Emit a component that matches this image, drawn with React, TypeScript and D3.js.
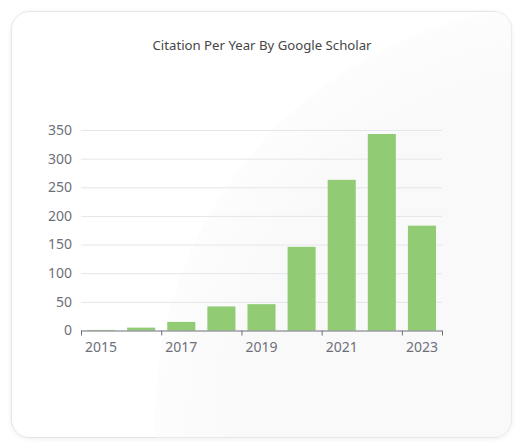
import { useMemo } from 'react';
import * as d3 from 'd3';

const years = ['2015', '2016', '2017', '2018', '2019', '2020', '2021', '2022', '2023'];
const citations = [1, 5, 15, 42, 46, 146, 263, 343, 183];
const yTicks = [0, 50, 100, 150, 200, 250, 300, 350];
const labelYears = ['2015', '2017', '2019', '2021', '2023'];

const W = 523;
const H = 444;
const margin = { top: 130, right: 81, bottom: 113.5, left: 81 };

export default function App() {
  const innerW = W - margin.left - margin.right;
  const innerH = H - margin.top - margin.bottom;

  const x = useMemo(
    () => d3.scaleBand<string>().domain(years).range([0, innerW]).paddingInner(0.3).paddingOuter(0.15),
    [innerW]
  );
  // band without padding, used for the axis ticks on category boundaries
  const xCat = useMemo(() => d3.scaleBand<string>().domain(years).range([0, innerW]), [innerW]);
  const y = useMemo(() => d3.scaleLinear().domain([0, 350]).range([innerH, 0]), [innerH]);

  const tickXs = years
    .map((yr, i) => (i % 2 === 0 ? xCat(yr)! : null))
    .filter((v): v is number => v !== null)
    .concat([innerW]);

  const font = '"Noto Sans", "Open Sans", sans-serif';

  return (
    <div style={{ position: 'absolute', left: 0, top: 0 }}>
      <svg width={W} height={H} style={{ display: 'block' }}>
        <defs>
          <filter id="shadow" x="-10%" y="-10%" width="120%" height="120%">
            <feDropShadow dx="0" dy="1" stdDeviation="2" floodColor="#000" floodOpacity="0.07" />
          </filter>
          <clipPath id="card">
            <rect x={11.5} y={11.5} width={500} height={426} rx={18} />
          </clipPath>
          <radialGradient id="glow" cx="0.5" cy="0.5" r="0.5">
            <stop offset="0.8" stopColor="#f5f5f5" />
            <stop offset="1" stopColor="#fbfbfb" />
          </radialGradient>
        </defs>
        <rect width={W} height={H} fill="#fff" />
        <rect x={11.5} y={11.5} width={500} height={426} rx={18} fill="#fff" stroke="#e4e4e4" filter="url(#shadow)" />
        <g clipPath="url(#card)">
          <circle cx={570} cy={420} r={415} fill="url(#glow)" opacity={0.6} />
        </g>
        <text x={262} y={50} textAnchor="middle" fontFamily={font} fontSize={13.2} fill="#464646">
          Citation Per Year By Google Scholar
        </text>
        <g transform={`translate(${margin.left},${margin.top})`}>
          {yTicks.map((t) => (
            <g key={t}>
              {t > 0 && <line x1={0} x2={innerW} y1={y(t) + 0.5} y2={y(t) + 0.5} stroke="#e3e6ec" />}
              <text x={-9} y={y(t)} dy="0.35em" textAnchor="end" fontFamily={font} fontSize={14} fill="#6e7079">
                {t}
              </text>
            </g>
          ))}
          {years.map((yr, i) => (
            <rect key={yr} x={x(yr)} y={y(citations[i])} width={x.bandwidth()} height={innerH - y(citations[i])} fill="#91cc75" />
          ))}
          <line x1={0} x2={innerW} y1={innerH + 0.5} y2={innerH + 0.5} stroke="#6e7079" />
          {tickXs.map((tx, i) => (
            <line key={i} x1={tx + 0.5} x2={tx + 0.5} y1={innerH} y2={innerH + 5} stroke="#6e7079" />
          ))}
          {labelYears.map((yr) => (
            <text key={yr} x={xCat(yr)! + xCat.bandwidth() / 2} y={innerH + 21} textAnchor="middle" fontFamily={font} fontSize={14} fill="#6e7079">
              {yr}
            </text>
          ))}
        </g>
      </svg>
    </div>
  );
}
